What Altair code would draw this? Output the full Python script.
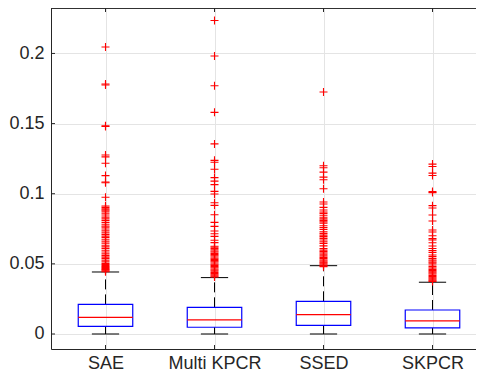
import altair as alt
import pandas as pd

# ---------------- data ----------------
categories = ["SAE", "Multi KPCR", "SSED", "SKPCR"]
q1 = [0.0055, 0.0048, 0.0062, 0.0043]
median = [0.0119, 0.0100, 0.0138, 0.0093]
q3 = [0.0211, 0.0190, 0.0233, 0.0171]
whisker_low = [0.0, 0.0, 0.0, 0.0]
whisker_high = [0.0442, 0.0402, 0.0487, 0.0369]

outliers_sae = [0.2046, 0.1782, 0.1775, 0.1485, 0.1479, 0.1276, 0.1263, 0.1217,
                0.1129, 0.1084, 0.1078, 0.0975, 0.0912, 0.0903, 0.0893, 0.0885,
                0.0876, 0.0862, 0.0848, 0.0833, 0.0821, 0.0808, 0.0795, 0.0782,
                0.0770, 0.0762, 0.0749, 0.0735, 0.0722, 0.0710, 0.0698, 0.0687,
                0.0672, 0.0661, 0.0648, 0.0633, 0.0621, 0.0609, 0.0597, 0.0584,
                0.0571, 0.0559, 0.0548, 0.0537, 0.0526, 0.0514, 0.0503, 0.0495,
                0.0488, 0.0481, 0.0475, 0.0468, 0.0461, 0.0455, 0.0449, 0.0444]
outliers_mkpcr = [0.2235, 0.1982, 0.1770, 0.1580, 0.1355, 0.1238, 0.1224, 0.1174,
                  0.1115, 0.1090, 0.1065, 0.1017, 0.0998, 0.0936, 0.0917, 0.0850,
                  0.0796, 0.0767, 0.0734, 0.0715, 0.0696, 0.0668, 0.0651, 0.0625,
                  0.0618, 0.0610, 0.0601, 0.0592, 0.0584, 0.0575, 0.0566, 0.0558,
                  0.0549, 0.0540, 0.0532, 0.0523, 0.0515, 0.0506, 0.0497, 0.0489,
                  0.0480, 0.0472, 0.0463, 0.0455, 0.0447, 0.0438, 0.0430, 0.0422,
                  0.0414, 0.0407]
outliers_ssed = [0.1725, 0.1199, 0.1185, 0.1154, 0.1118, 0.1100, 0.1035, 0.0941,
                 0.0927, 0.0903, 0.0884, 0.0870, 0.0860, 0.0846, 0.0832, 0.0821,
                 0.0810, 0.0799, 0.0789, 0.0772, 0.0758, 0.0745, 0.0729, 0.0717,
                 0.0705, 0.0694, 0.0682, 0.0670, 0.0658, 0.0646, 0.0628, 0.0610,
                 0.0598, 0.0587, 0.0577, 0.0568, 0.0557, 0.0546, 0.0537, 0.0527,
                 0.0520, 0.0513, 0.0508, 0.0500, 0.0492, 0.0486, 0.0480]
outliers_skpcr = [0.1211, 0.1194, 0.1147, 0.1130, 0.1015, 0.1008, 0.0915, 0.0898,
                  0.0848, 0.0806, 0.0741, 0.0727, 0.0700, 0.0680, 0.0670, 0.0650,
                  0.0627, 0.0610, 0.0595, 0.0582, 0.0563, 0.0552, 0.0539, 0.0528,
                  0.0520, 0.0511, 0.0504, 0.0492, 0.0480, 0.0470, 0.0461, 0.0452,
                  0.0444, 0.0436, 0.0428, 0.0418, 0.0409, 0.0401, 0.0394, 0.0387,
                  0.0380, 0.0375]
outliers = [outliers_sae, outliers_mkpcr, outliers_ssed, outliers_skpcr]

y_ticks = [0, 0.05, 0.1, 0.15, 0.2]

# ---------------- layout / style ----------------
W, H = 425, 341
PX_PER_CAT = 109
X_DOMAIN = [0.5, 0.5 + W / PX_PER_CAT]
Y_DOMAIN = [-0.0107, 0.2324]
BOX_HALF = 0.25
CAP_HALF = 0.125
AX = "#262626"
GRID = "#e4e4e4"
FONT = "Liberation Sans"
TICK_LEN = 4

pos = list(range(1, len(categories) + 1))
box_df = pd.DataFrame({
    "cat": categories, "pos": pos, "q1": q1, "median": median, "q3": q3,
    "wlo": whisker_low, "whi": whisker_high,
})
box_df["left"] = box_df["pos"] - BOX_HALF
box_df["right"] = box_df["pos"] + BOX_HALF
box_df["capl"] = box_df["pos"] - CAP_HALF
box_df["capr"] = box_df["pos"] + CAP_HALF

out_rows = []
for p, vals in zip(pos, outliers):
    for v in vals:
        out_rows.append({"pos": p, "v": v})
out_df = pd.DataFrame(out_rows)
ytick_df = pd.DataFrame({"v": y_ticks})

xs = alt.Scale(domain=X_DOMAIN, nice=False, zero=False)
ys = alt.Scale(domain=Y_DOMAIN, nice=False, zero=False)

label_expr = "[" + ",".join("'" + c + "'" for c in categories) + "][datum.value - 1]"

x_axis = alt.Axis(values=pos, labelExpr=label_expr, grid=True, gridColor=GRID,
                  ticks=False, domain=True, domainColor=AX, labelColor=AX,
                  labelFontSize=18, labelFont=FONT, labelPadding=5, title=None,
                  labelBaseline="top")
y_axis = alt.Axis(values=y_ticks, format="~g", grid=True, gridColor=GRID,
                  ticks=False, domain=True, domainColor=AX, labelColor=AX,
                  labelFontSize=18, labelFont=FONT, labelPadding=7, title=None)


def X(field):
    return alt.X(field, type="quantitative", scale=xs, axis=x_axis)


def Y(field):
    return alt.Y(field, type="quantitative", scale=ys, axis=y_axis)


base = alt.Chart(box_df)

upper_whisker = base.mark_rule(color="black", strokeWidth=1, strokeDash=[10, 5]).encode(
    x=X("pos"), y=Y("q3"), y2="whi:Q",
)
lower_whisker = base.mark_rule(color="black", strokeWidth=1, strokeDash=[10, 5]).encode(
    x=X("pos"), y=Y("q1"), y2="wlo:Q",
)
cap_hi = base.mark_rule(color="black", strokeWidth=1).encode(
    x=X("capl"), x2="capr:Q", y=Y("whi"),
)
cap_lo = base.mark_rule(color="black", strokeWidth=1).encode(
    x=X("capl"), x2="capr:Q", y=Y("wlo"),
)
boxes = base.mark_rect(fillOpacity=0, stroke="#0000ff", strokeWidth=1.2).encode(
    x=X("left"), x2="right:Q", y=Y("q1"), y2="q3:Q",
)
medians = base.mark_rule(color="#ff0000", strokeWidth=1.2).encode(
    x=X("left"), x2="right:Q", y=Y("median"),
)
points = alt.Chart(out_df).mark_point(
    shape="M-1,0H1M0,-1V1", size=64, filled=False, color="#ff0000",
    strokeWidth=1.1, opacity=1,
).encode(x=X("pos"), y=Y("v"))

# inward ticks and top frame line
left_ticks = alt.Chart(ytick_df).mark_rule(color=AX, strokeWidth=1).encode(
    y=Y("v"), x=alt.value(0), x2=alt.value(TICK_LEN),
)
bottom_ticks = base.mark_rule(color=AX, strokeWidth=1).encode(
    x=X("pos"), y=alt.value(H), y2=alt.value(H - TICK_LEN),
)
top_ticks = base.mark_rule(color=AX, strokeWidth=1).encode(
    x=X("pos"), y=alt.value(0), y2=alt.value(TICK_LEN),
)
top_line = base.mark_rule(color=AX, strokeWidth=1).encode(
    x=alt.value(0), x2=alt.value(W), y=alt.value(0),
)

chart = alt.layer(
    upper_whisker, lower_whisker, cap_hi, cap_lo, boxes, medians, points,
    left_ticks, bottom_ticks, top_ticks, top_line,
).properties(
    width=W, height=H,
    autosize=alt.AutoSizeParams(type="none"),
    padding={"left": 43, "top": 0, "right": 0, "bottom": 24},
).configure_view(stroke="transparent").configure(font=FONT)

chart.save("out.html", embed_options={"renderer": "svg", "actions": False})
